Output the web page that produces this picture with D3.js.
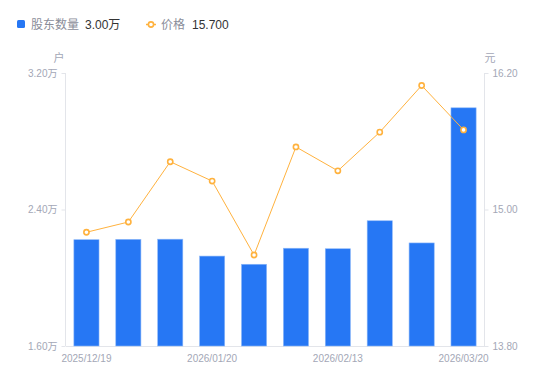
<!DOCTYPE html>
<html><head><meta charset="utf-8">
<script src="https://cdn.jsdelivr.net/npm/d3@7"></script>
<style>
html,body{margin:0;padding:0;background:#fff;}
svg{display:block;font-family:"Liberation Sans","Noto Sans CJK SC",sans-serif;}
</style></head>
<body><svg id="c" width="550" height="381"></svg>
<script>
const categories = ["2025/12/19","2025/12/31","2026/01/09","2026/01/20","2026/01/30","2026/02/10","2026/02/13","2026/02/27","2026/03/10","2026/03/20"];
const holders = [2.223, 2.225, 2.226, 2.127, 2.079, 2.173, 2.170, 2.334, 2.204, 2.996]; // 万户
const prices = [14.80, 14.89, 15.42, 15.25, 14.60, 15.55, 15.34, 15.68, 16.09, 15.70];
const leftTicks = [1.6, 2.4, 3.2];
const rightTicks = [13.8, 15.0, 16.2];
const shownLabels = ["2025/12/19","2026/01/20","2026/02/13","2026/03/20"];

const svg = d3.select("#c");
const L = 65.5, R = 484.5, T = 73, B = 346;
const blue = "#2677F4", orange = "#FFB23E", tickCol = "#A3A7B6", axisCol = "#E3E5EA";
const font = "'Liberation Sans','Noto Sans CJK SC',sans-serif";

const x = d3.scaleBand().domain(categories).range([L, R]).paddingInner(0).paddingOuter(0);
const yL = d3.scaleLinear().domain([1.6, 3.2]).range([B, T]);
const yR = d3.scaleLinear().domain([13.8, 16.2]).range([B, T]);

const gl = svg.append("g").attr("transform", `translate(${L},0)`)
  .call(d3.axisLeft(yL).tickValues(leftTicks).tickSize(4).tickPadding(4).tickFormat(d => d3.format(".2f")(d) + "万"));
const gr = svg.append("g").attr("transform", `translate(${R},0)`)
  .call(d3.axisRight(yR).tickValues(rightTicks).tickSize(4).tickPadding(4).tickFormat(d3.format(".2f")));
[gl, gr].forEach(g => {
  g.select(".domain").attr("stroke", axisCol).attr("d", `M0,${T}V${B}`);
  g.selectAll(".tick line").attr("stroke", axisCol);
  g.selectAll(".tick text").attr("fill", tickCol).attr("font-size", 10).attr("font-family", font);
});
const gb = svg.append("g").attr("transform", `translate(0,${B})`)
  .call(d3.axisBottom(x).tickValues(shownLabels).tickSize(0).tickPadding(9));
gb.select(".domain").attr("stroke", axisCol);
gb.selectAll(".tick text").attr("fill", tickCol).attr("font-size", 10).attr("font-family", font);

svg.append("text").attr("x", 59).attr("y", 62).attr("text-anchor", "middle").attr("fill", tickCol).attr("font-size", 11).text("户");
svg.append("text").attr("x", 490).attr("y", 62).attr("text-anchor", "middle").attr("fill", tickCol).attr("font-size", 11).text("元");

const bw = x.bandwidth() * 0.6;
svg.append("g").selectAll("rect").data(holders).join("rect")
  .attr("x", (d, i) => x(categories[i]) + (x.bandwidth() - bw) / 2)
  .attr("y", d => yL(d))
  .attr("width", bw)
  .attr("height", d => B - yL(d))
  .attr("fill", blue)
  .attr("stroke", "#8DB8F9").attr("stroke-width", 0.6);

const lineGen = d3.line().x((d, i) => x(categories[i]) + x.bandwidth() / 2).y(d => yR(d));
svg.append("path").datum(prices).attr("d", lineGen).attr("fill", "none").attr("stroke", orange).attr("stroke-width", 1);
svg.append("g").selectAll("circle").data(prices).join("circle")
  .attr("cx", (d, i) => x(categories[i]) + x.bandwidth() / 2)
  .attr("cy", d => yR(d))
  .attr("r", 2.6).attr("fill", "#fff").attr("stroke", orange).attr("stroke-width", 1.6);

const lg = svg.append("g").attr("font-family", font).attr("font-size", 12);
lg.append("rect").attr("x", 17).attr("y", 20).attr("width", 8).attr("height", 8).attr("rx", 1.5).attr("fill", blue);
lg.append("text").attr("x", 31).attr("y", 29).attr("fill", "#8A8D99").text("股东数量");
lg.append("text").attr("x", 85).attr("y", 29).attr("fill", "#333").text(d3.format(".2f")(holders[holders.length - 1]) + "万");
lg.append("line").attr("x1", 146).attr("x2", 156).attr("y1", 24.5).attr("y2", 24.5).attr("stroke", orange).attr("stroke-width", 1.5);
lg.append("circle").attr("cx", 151).attr("cy", 24.5).attr("r", 2.6).attr("fill", "#fff").attr("stroke", orange).attr("stroke-width", 1.6);
lg.append("text").attr("x", 161).attr("y", 29).attr("fill", "#8A8D99").text("价格");
lg.append("text").attr("x", 192).attr("y", 29).attr("fill", "#333").text(d3.format(".3f")(prices[prices.length - 1]));
</script></body></html>
